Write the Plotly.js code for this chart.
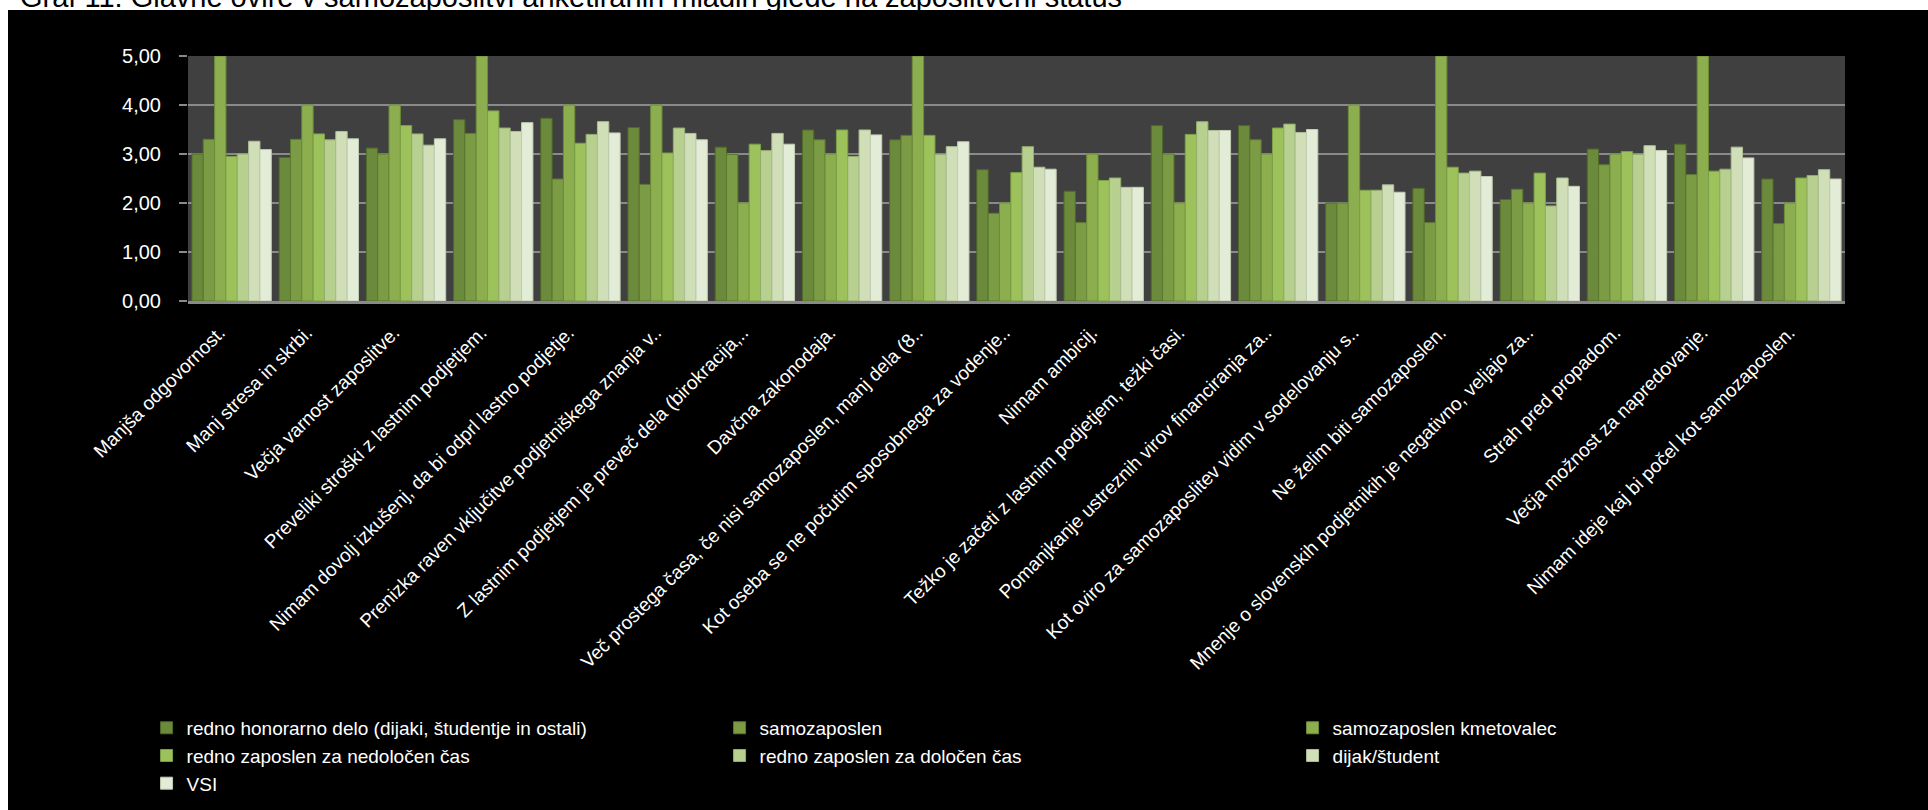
<!DOCTYPE html>
<html><head><meta charset="utf-8">
<script src="https://cdn.plot.ly/plotly-3.0.1.min.js"></script>
<style>
html,body{margin:0;padding:0;background:#fff;width:1928px;height:810px;overflow:hidden;}
#ttl{position:absolute;left:20px;top:-17px;font-family:'Liberation Sans',Arial,sans-serif;font-size:29px;line-height:29px;color:#000;white-space:nowrap;z-index:1;}
#chart{position:absolute;left:8px;top:10px;width:1920px;height:800px;z-index:2;}
</style></head><body>
<div id="ttl">Graf 11: Glavne ovire v samozaposlitvi anketiranih mladih glede na zaposlitveni status</div>
<div id="chart"></div>
<script>
const categories = [
  "Manjša odgovornost.",
  "Manj stresa in skrbi.",
  "Večja varnost zaposlitve.",
  "Preveliki stroški z lastnim podjetjem.",
  "Nimam dovolj izkušenj, da bi odprl lastno podjetje.",
  "Prenizka raven vključitve podjetniškega znanja v..",
  "Z lastnim podjetjem je preveč dela (birokracija,..",
  "Davčna zakonodaja.",
  "Več prostega časa, če nisi samozaposlen, manj dela (8..",
  "Kot oseba se ne počutim sposobnega za vodenje..",
  "Nimam ambicij.",
  "Težko je začeti z lastnim podjetjem, težki časi.",
  "Pomanjkanje ustreznih virov financiranja za..",
  "Kot oviro za samozaposlitev vidim v sodelovanju s..",
  "Ne želim biti samozaposlen.",
  "Mnenje o slovenskih podjetnikih je negativno, veljajo za..",
  "Strah pred propadom.",
  "Večja možnost za napredovanje.",
  "Nimam ideje kaj bi počel kot samozaposlen."
];

const seriesNames = [
  "redno honorarno delo (dijaki, študentje in ostali)",
  "samozaposlen",
  "samozaposlen kmetovalec",
  "redno zaposlen za nedoločen čas",
  "redno zaposlen za določen čas",
  "dijak/študent",
  "VSI"
];

const rednoHonorarno = [3.00, 2.93, 3.12, 3.70, 3.73, 3.54, 3.14, 3.49, 3.29, 2.68, 2.24, 3.58, 3.58, 2.00, 2.30, 2.07, 3.10, 3.20, 2.49];
const samozaposlen   = [3.30, 3.30, 3.00, 3.42, 2.49, 2.38, 2.99, 3.29, 3.38, 1.79, 1.60, 3.00, 3.29, 2.00, 1.60, 2.28, 2.78, 2.58, 1.58];
const kmetovalec     = [5.00, 4.00, 4.00, 5.00, 4.00, 4.00, 2.00, 3.00, 5.00, 2.00, 3.00, 2.00, 3.00, 4.00, 5.00, 2.00, 3.00, 5.00, 2.00];
const nedolocen      = [2.95, 3.41, 3.58, 3.88, 3.22, 3.02, 3.20, 3.49, 3.38, 2.62, 2.46, 3.40, 3.53, 2.26, 2.73, 2.61, 3.05, 2.65, 2.51];
const dolocen        = [3.00, 3.29, 3.41, 3.53, 3.40, 3.53, 3.07, 2.95, 2.99, 3.15, 2.51, 3.66, 3.61, 2.26, 2.61, 1.94, 2.99, 2.69, 2.56];
const dijakStudent   = [3.26, 3.46, 3.18, 3.46, 3.66, 3.42, 3.42, 3.49, 3.15, 2.73, 2.32, 3.48, 3.44, 2.37, 2.65, 2.51, 3.17, 3.14, 2.68];
const vsi            = [3.09, 3.31, 3.31, 3.64, 3.43, 3.29, 3.20, 3.39, 3.25, 2.69, 2.32, 3.48, 3.50, 2.22, 2.54, 2.34, 3.07, 2.92, 2.49];

const yTicks = [0, 1, 2, 3, 4, 5];

const seriesValues = [rednoHonorarno, samozaposlen, kmetovalec, nedolocen, dolocen, dijakStudent, vsi];
const colors = ["#6c8a3b", "#7b9c44", "#8cae4f", "#9dc25b", "#b7cf8f", "#d0dfb7", "#e3ecd6"];
const edges  = ["#4f6a28", "#5c7a30", "#6c8c3a", "#7ba045", "#94ad6c", "#aebf95", "#c2ccb4"];

const traces = seriesValues.map((vals, i) => ({
  type: 'bar',
  name: seriesNames[i],
  x: categories,
  y: vals,
  marker: {color: colors[i], line: {color: edges[i], width: 1}},
  hoverinfo: 'skip'
}));

const layout = {
  width: 1920, height: 800,
  paper_bgcolor: '#000000',
  plot_bgcolor: '#404040',
  margin: {l: 180, r: 83, t: 46, b: 509, autoexpand: false},
  separators: ', ',
  barmode: 'group',
  bargap: 0.09,
  bargroupgap: 0,
  font: {family: 'Liberation Sans, Arial, sans-serif', size: 19, color: '#ffffff'},
  showlegend: true,
  xaxis: {
    type: 'category',
    tickangle: -45,
    showgrid: false,
    ticks: '',
    showline: true,
    linecolor: '#8a8a8a',
    linewidth: 3,
    tickfont: {size: 19, color: '#ffffff'},
    ticklabelstandoff: 10,
    ticklabelshift: -12,
    automargin: false,
    fixedrange: true
  },
  yaxis: {
    range: [0, 5],
    tickvals: yTicks,
    tickformat: '.2f',
    showgrid: true,
    gridcolor: '#8a8a8a',
    gridwidth: 2,
    zeroline: false,
    showline: false,
    ticks: 'outside',
    ticklen: 8,
    tickwidth: 2,
    tickcolor: '#8a8a8a',
    ticklabelstandoff: 14,
    tickfont: {size: 20, color: '#ffffff'},
    automargin: false,
    fixedrange: true
  },
  legend: {
    orientation: 'h',
    x: -0.025, xanchor: 'left',
    y: -1.665, yanchor: 'top',
    entrywidth: 528, entrywidthmode: 'pixels',
    traceorder: 'normal',
    font: {size: 19, color: '#ffffff'},
    bgcolor: 'rgba(0,0,0,0)'
  }
};

Plotly.newPlot('chart', traces, layout, {displayModeBar: false, staticPlot: true});
</script>
</body></html>
